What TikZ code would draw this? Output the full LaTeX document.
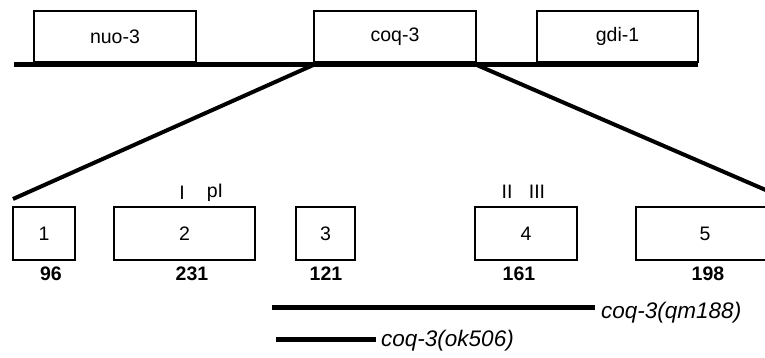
\documentclass[tikz,border=0pt]{standalone}
\usepackage{fontspec}
\setmainfont{Liberation Sans}
\begin{document}
\begin{tikzpicture}[x=1pt,y=-1pt,
  gene/.style={draw,line width=1.5pt,fill=white,minimum height=51pt,inner sep=0pt,font=\fontsize{19.5}{21}\selectfont},
  exon/.style={draw,line width=1.5pt,fill=white,minimum height=53pt,inner sep=0pt,font=\fontsize{19.5}{21}\selectfont},
  len/.style={font=\fontsize{19.5}{21}\selectfont\bfseries,inner sep=0pt},
  dom/.style={font=\fontsize{19.5}{21}\selectfont,inner sep=0pt},
  allele/.style={font=\fontsize{22.5}{24}\selectfont\itshape,inner sep=0pt,anchor=west},
  bar/.style={line width=5pt},
  thin/.style={line width=4pt}]
\useasboundingbox (0,0) rectangle (765,358);
% top genes
\node[gene,minimum width=162pt] (nuo) at (115,36.5) {nuo-3};
\node[gene,minimum width=162pt] (coq) at (395,36.5) {coq-3};
\node[gene,minimum width=161pt] (gdi) at (617.5,36.5) {gdi-1};
\coordinate (bl) at (14,65);
\coordinate (br) at (698,65);
\draw[bar] (bl) -- (br);
% zoom lines
\coordinate (zl) at (13,199);
\coordinate (zr) at (768,191);
\draw[thin] (coq.south west |- bl) -- (zl);
\draw[thin] (coq.south east |- bl) -- (zr);
% exons
\node[exon,minimum width=62pt] (e1) at (44,233.5) {1};
\node[exon,minimum width=141pt] (e2) at (184.5,233.5) {2};
\node[exon,minimum width=59pt] (e3) at (325.5,233.5) {3};
\node[exon,minimum width=102pt] (e4) at (526,233.5) {4};
\node[exon,minimum width=138pt] (e5) at (705,233.5) {5};
% lengths
\node[len] (l1) at (51,274) {96};
\node[len] (l2) at (192,274) {231};
\node[len] (l3) at (326,274) {121};
\node[len] (l4) at (519,274) {161};
\node[len] (l5) at (708,274) {198};
% domains
\node[dom] (dI) at (182,193) {I};
\node[dom] (dpI) at (215,193) {pI};
\node[dom] (dII) at (507,192) {II};
\node[dom] (dIII) at (537,192) {III};
% alleles
\node[allele] (qm) at (601,313) {coq-3(qm188)};
\coordinate (qa) at (272,307);
\draw[bar] (qa) -- ([xshift=-6pt]qa -| qm.west);
\node[allele] (ok) at (381,341) {coq-3(ok506)};
\coordinate (oa) at (276,339);
\draw[bar] (oa) -- ([xshift=-5pt]oa -| ok.west);
\end{tikzpicture}
\end{document}
